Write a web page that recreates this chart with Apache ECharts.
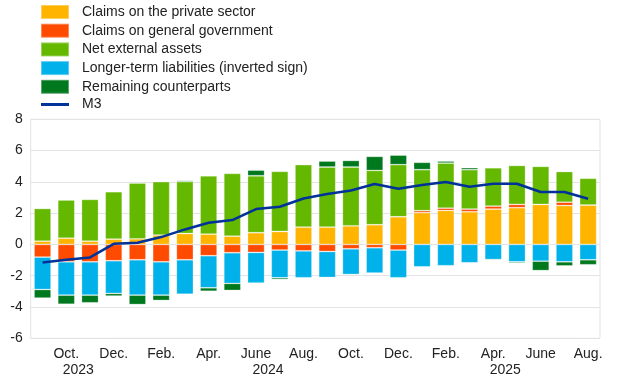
<!DOCTYPE html>
<html>
<head>
<meta charset="utf-8">
<script src="https://cdn.jsdelivr.net/npm/echarts@6/dist/echarts.min.js"></script>
<style>html,body{margin:0;padding:0;background:#fff}#c{width:620px;height:387px}</style>
</head>
<body>
<div id="c"></div>
<script>
const categories = ['2023-09','2023-10','2023-11','2023-12','2024-01','2024-02','2024-03','2024-04','2024-05','2024-06','2024-07','2024-08','2024-09','2024-10','2024-11','2024-12','2025-01','2025-02','2025-03','2025-04','2025-05','2025-06','2025-07','2025-08'];
const monthLabels = ['Sep.','Oct.','Nov.','Dec.','Jan.','Feb.','Mar.','Apr.','May','June','July','Aug.','Sep.','Oct.','Nov.','Dec.','Jan.','Feb.','Mar.','Apr.','May','June','July','Aug.'];
const yearLabels = ['','2023','','','','','','','','2024','','','','','','','','','','2025','','','',''];
const yTicks = [-6,-4,-2,0,2,4,6,8];

const privateSector = [0.21,0.40,0.21,0.34,0.36,0.60,0.70,0.66,0.53,0.75,0.83,1.11,1.11,1.19,1.26,1.77,2.03,2.17,2.09,2.26,2.35,2.56,2.49,2.52];
const generalGov = [-0.81,-1.11,-1.11,-1.04,-0.98,-1.11,-0.98,-0.72,-0.53,-0.51,-0.36,-0.41,-0.45,-0.28,-0.21,-0.36,0.13,0.15,0.17,0.19,0.21,0.00,0.21,0.00];
const netExternal = [2.09,2.44,2.67,3.03,3.56,3.41,3.31,3.73,4.01,3.64,3.84,3.99,3.84,3.76,3.47,3.33,2.62,2.88,2.52,2.45,2.49,2.43,1.96,1.71];
const longerTerm = [-2.07,-2.13,-2.13,-2.09,-2.26,-2.13,-2.20,-2.05,-1.96,-1.96,-1.77,-1.72,-1.66,-1.64,-1.62,-1.77,-1.43,-1.36,-1.17,-0.96,-1.11,-1.07,-1.11,-0.98];
const remaining = [-0.55,-0.58,-0.49,-0.17,-0.60,-0.34,0.08,-0.22,-0.45,0.36,-0.11,0.04,0.38,0.42,0.90,0.61,0.47,0.13,0.13,-0.06,-0.08,-0.60,-0.26,-0.32];
const m3 = [-1.15,-0.98,-0.83,0.04,0.11,0.47,0.96,1.39,1.56,2.26,2.41,2.94,3.22,3.45,3.86,3.56,3.80,3.99,3.69,3.88,3.88,3.35,3.35,2.92];

const seriesNames = ['Claims on the private sector','Claims on general government','Net external assets','Longer-term liabilities (inverted sign)','Remaining counterparts','M3'];
const colors = ['#FFB400','#FF4B00','#65B800','#00B1EA','#00781E','#003299'];

const chart = echarts.init(document.getElementById('c'), null, {renderer:'canvas'});
const barData = [privateSector, generalGov, netExternal, longerTerm, remaining];
const series = barData.map((d,i)=>({
  name: seriesNames[i], type:'bar', stack:'total', data:d, barWidth:17,
  itemStyle:{color:colors[i], borderColor:'rgba(255,255,255,0.35)', borderWidth:0.8},
  emphasis:{disabled:true}
}));
series.push({
  name: seriesNames[5], type:'line', data:m3, symbol:'none', z:10,
  lineStyle:{color:colors[5], width:2.5}, itemStyle:{color:colors[5]}
});

chart.setOption({
  animation:false,
  textStyle:{fontFamily:'Liberation Sans, Arial, sans-serif'},
  legend:{
    orient:'vertical', left:40, top:4, padding:0, itemWidth:28, itemHeight:14, itemGap:2.7,
    textStyle:{fontSize:14, color:'#222', lineHeight:14, padding:[0,0,0,8]},
    data: seriesNames.map((n,i)=> i<5 ? {name:n, icon:'rect'} : {name:n, icon:'path://M0,0H28V3H0Z'})
  },
  grid:{left:30.7, right:20, top:119.3, bottom:48.7, show:true, borderColor:'#e3e3e3', borderWidth:1},
  xAxis:{
    type:'category', data:categories,
    axisLine:{show:false}, axisTick:{show:false},
    axisLabel:{
      interval:(i)=> i%2===1, margin:8, color:'#222', fontSize:14,
      formatter:(v)=>{
        const idx = categories.indexOf(v);
        const y = yearLabels[idx];
        return '{m|'+monthLabels[idx]+'}' + (y ? '\n{y|'+y+'}' : '');
      },
      rich:{m:{fontSize:14, lineHeight:16, color:'#222'}, y:{fontSize:14, lineHeight:16, color:'#222', padding:[0,0,0,24]}}
    }
  },
  yAxis:{
    type:'value', min:yTicks[0], max:yTicks[yTicks.length-1], interval:2,
    axisLine:{show:false}, axisTick:{show:false},
    axisLabel:{color:'#222', fontSize:14, margin:8},
    splitLine:{lineStyle:{color:'#e3e3e3', width:1}}
  },
  series: series
});
</script>
</body>
</html>
